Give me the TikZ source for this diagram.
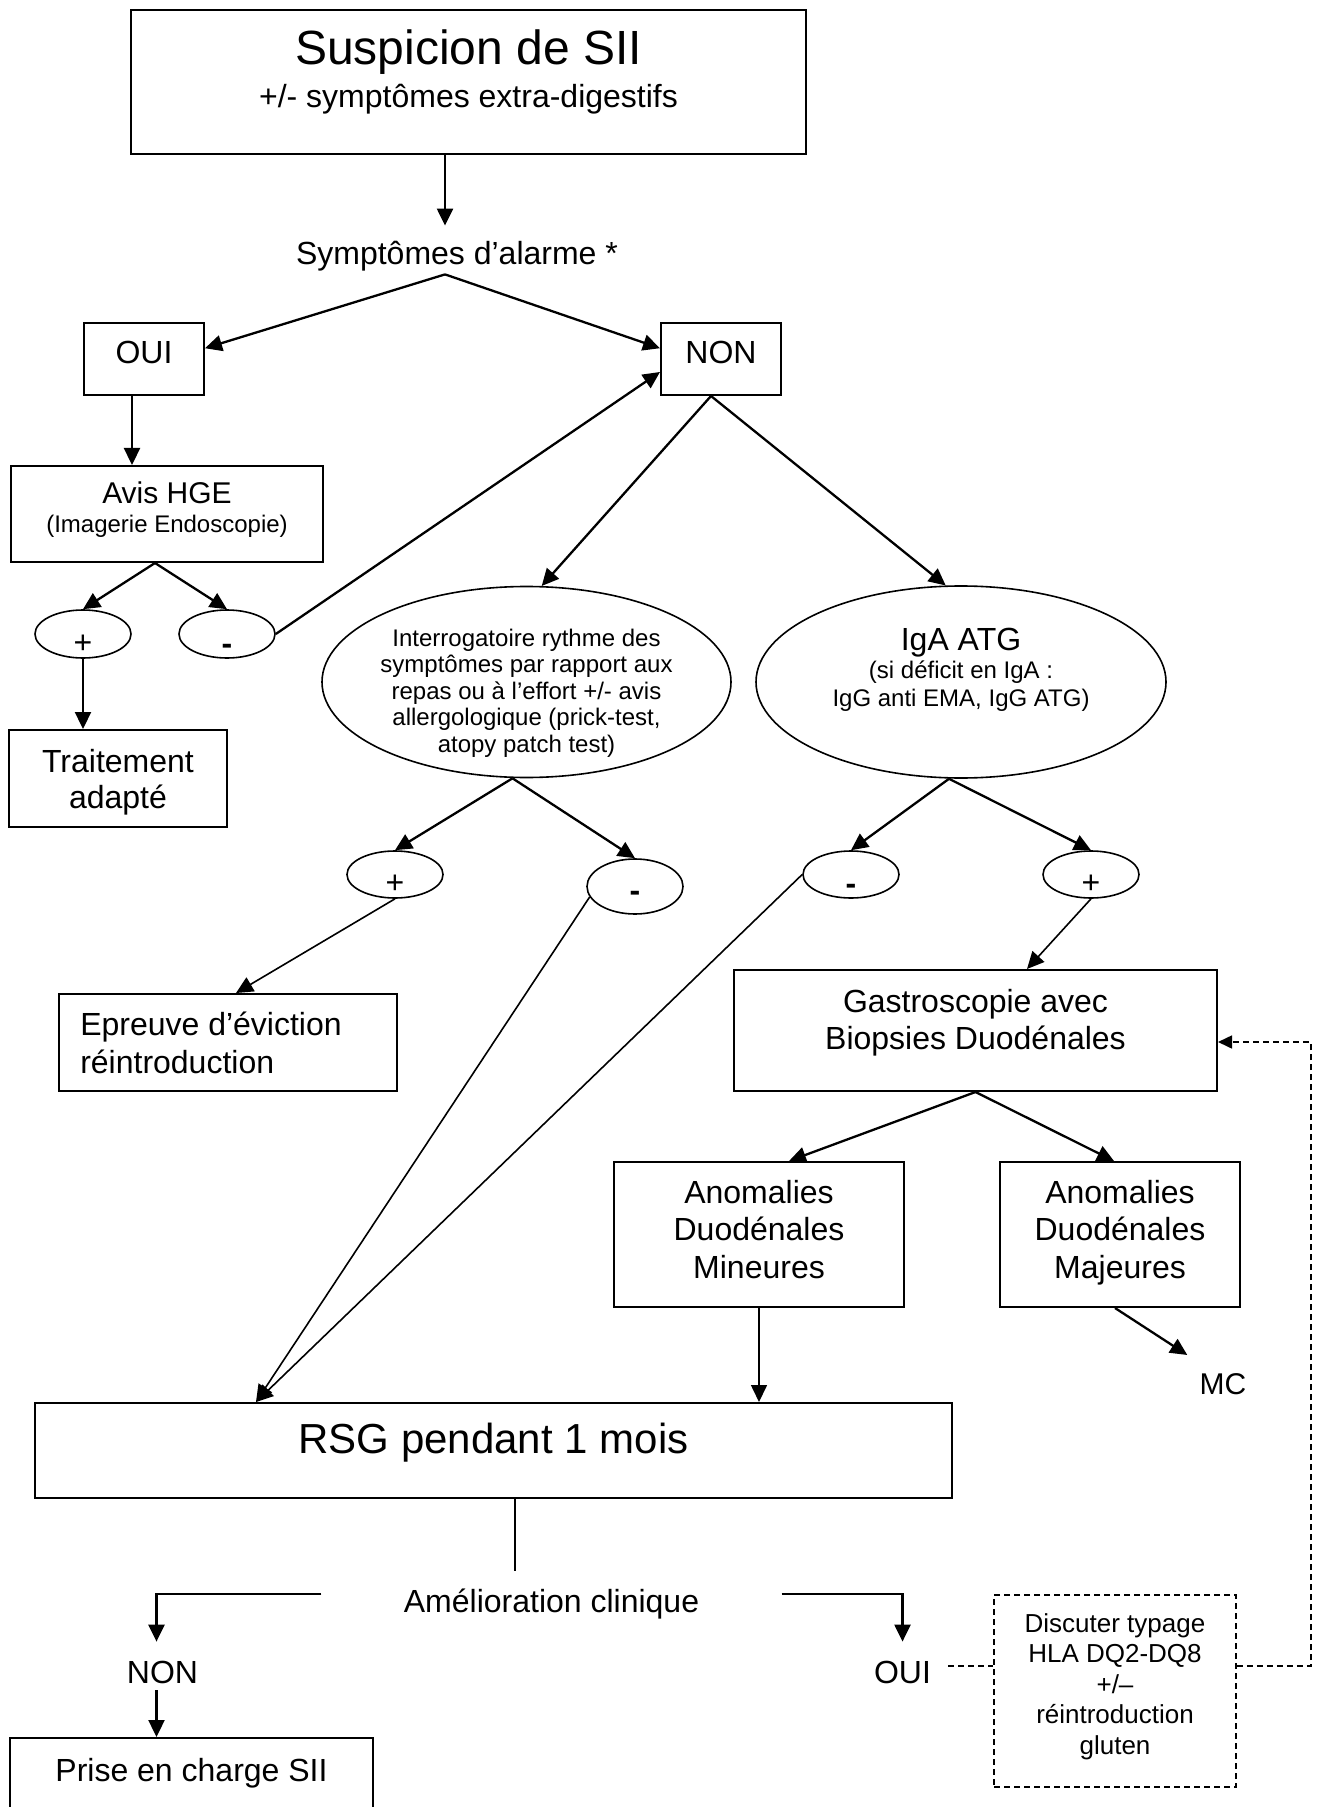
\documentclass[tikz,border=0pt]{standalone}
\usepackage{fontspec}
\setmainfont{Liberation Sans}
\usetikzlibrary{arrows.meta,shapes.geometric,calc}
\newcommand\txtc[3]{\raisebox{#1}[0pt][0pt]{\makebox[0pt]{\hspace*{#2}\hspace*{#2}\begin{tabular}[t]{@{}c@{}}#3\end{tabular}}}}
\newcommand\txtl[3]{\raisebox{#1}[0pt][0pt]{\makebox[0pt]{\hspace*{#2}\hspace*{#2}\begin{tabular}[t]{@{}l@{}}#3\end{tabular}}}}
\tikzset{
  box/.style={draw, line width=1pt, rectangle, inner sep=0pt},
  ell/.style={draw, line width=0.8pt, ellipse, inner sep=0pt},
  arr/.style={-{Triangle[length=8.5pt,width=8pt]}, line width=1.15pt},
  tarr/.style={-{Triangle[length=8.5pt,width=8pt]}, line width=0.8pt},
  fine/.style={line width=0.7pt},
  dsh/.style={line width=0.8pt, dash pattern=on 3pt off 2pt},
  f16/.style={font=\fontsize{16}{19}\selectfont},
}
\begin{document}
\begin{tikzpicture}[x=0.5pt,y=-0.5pt]
\useasboundingbox (0,0) rectangle (1317,1807);
\clip (0,0) rectangle (1317,1807);

% nodes
\node[box, minimum width=337.5pt, minimum height=72pt, font=\fontsize{16}{21.5}\selectfont] (top) at (468.5,82)
  {\txtc{8.5pt}{0pt}{{\fontsize{24}{24}\selectfont Suspicion de SII}\\+/- symptômes extra-digestifs}};
\node[inner sep=0pt, text height=19.5pt, text depth=4.5pt, f16] (alarm) at (457,250) {Symptômes d’alarme *};
\node[box, minimum width=60pt, minimum height=36pt, f16] (oui) at (144,359) {\txtc{-2.5pt}{0pt}{OUI}};
\node[box, minimum width=60pt, minimum height=36pt, f16] (non) at (721,359) {\txtc{-2.5pt}{0pt}{NON}};
\node[box, minimum width=156pt, minimum height=48pt, font=\fontsize{12}{14.5}\selectfont] (avis) at (167,514)
  {\txtc{5pt}{0pt}{{\fontsize{15}{15}\selectfont Avis HGE}\\(Imagerie Endoscopie)}};
\node[ell, minimum width=48pt, minimum height=24pt, f16] (pos1) at (83,634) {\txtc{-9.65pt}{0pt}{+}};
\node[ell, minimum width=48pt, minimum height=24pt, f16] (neg1) at (227,634) {\txtc{-10.3pt}{0pt}{\textbf{-}}};
\node[box, minimum width=109pt, minimum height=48.5pt, font=\fontsize{16}{18}\selectfont] (trait) at (118,778.5)
  {\txtc{3.25pt}{0pt}{Traitement\\adapté}};
\node[ell, minimum width=204.5pt, minimum height=95.5pt, font=\fontsize{12}{13.25}\selectfont] (interrog) at (526.5,682)
  {\txtc{18pt}{0pt}{Interrogatoire rythme des\\symptômes par rapport aux\\repas ou à l’effort +/- avis\\allergologique (prick-test,\\atopy patch test)}};
\node[ell, minimum width=205pt, minimum height=96pt, font=\fontsize{12}{14}\selectfont] (iga) at (961,682)
  {\txtc{16pt}{0pt}{{\fontsize{16}{16}\selectfont IgA ATG}\\(si déficit en IgA :\\IgG anti EMA, IgG ATG)}};
\node[ell, minimum width=48pt, minimum height=23.5pt, f16] (pos2) at (395,874.5) {\txtc{-9.4pt}{0pt}{+}};
\node[ell, minimum width=48pt, minimum height=27.5pt, f16] (neg2) at (635,886.5) {\txtc{-7.55pt}{0pt}{\textbf{-}}};
\node[ell, minimum width=48pt, minimum height=23.5pt, f16] (neg3) at (851,874.5) {\txtc{-10pt}{0pt}{\textbf{-}}};
\node[ell, minimum width=48pt, minimum height=23.5pt, f16] (pos3) at (1091,874.5) {\txtc{-9.4pt}{0pt}{+}};
\node[box, minimum width=169pt, minimum height=48.5pt, f16] (epr) at (228,1042.5)
  {\txtl{3.75pt}{-8.5pt}{Epreuve d’éviction\\réintroduction}};
\node[box, minimum width=241.5pt, minimum height=60.5pt, font=\fontsize{16}{18.5}\selectfont] (gastro) at (975.5,1030.5)
  {\txtc{9.25pt}{0pt}{Gastroscopie avec\\Biopsies Duodénales}};
\node[box, minimum width=145pt, minimum height=72.5pt, font=\fontsize{16}{18.75}\selectfont] (min) at (759,1234.5)
  {\txtc{15.75pt}{0pt}{Anomalies\\Duodénales\\Mineures}};
\node[box, minimum width=120pt, minimum height=72.5pt, font=\fontsize{16}{18.75}\selectfont] (maj) at (1120,1234.5)
  {\txtc{15.75pt}{0pt}{Anomalies\\Duodénales\\Majeures}};
\node[inner sep=0pt, font=\fontsize{15}{18}\selectfont] (mc) at (1223,1384) {MC};
\node[box, minimum width=458.5pt, minimum height=47.5pt, font=\fontsize{21}{25}\selectfont] (rsg) at (493.5,1450.5)
  {\txtc{-1.25pt}{0pt}{RSG pendant 1 mois}};
\node[inner xsep=41pt, inner ysep=0pt, text height=20.5pt, text depth=2.5pt, f16] (amel) at (551.5,1594) {Amélioration clinique};
\node[inner sep=0pt, text height=20.5pt, text depth=3.5pt, f16] (non2) at (162.5,1666) {NON};
\node[inner xsep=8.5pt, inner ysep=0pt, text height=20.5pt, text depth=3.5pt, f16] (oui2) at (902.5,1666) {OUI};
\node[box, dsh, minimum width=121pt, minimum height=96pt, font=\fontsize{13}{15.25}\selectfont] (disc) at (1115,1691)
  {\txtc{29.5pt}{0pt}{Discuter typage\\HLA DQ2-DQ8\\+/–\\réintroduction\\gluten}};
\node[box, minimum width=181.5pt, minimum height=51pt, f16] (prise) at (191.5,1789)
  {\txtc{4pt}{0pt}{Prise en charge SII}};

% connectors
\draw[arr] ([xshift=-6pt]alarm.north |- top.south) -- ([xshift=-6pt]alarm.north);
\draw[arr] ([xshift=-6pt]alarm.south) -- (oui.10);
\draw[arr] ([xshift=-6pt]alarm.south) -- (non.170);
\draw[arr] ([xshift=-6pt]oui.south) -- ([xshift=-6pt]oui.south |- avis.north);
\draw[arr] ([xshift=-6pt]avis.south) -- (pos1.north);
\draw[arr] ([xshift=-6pt]avis.south) -- (neg1.north);
\draw[arr] (pos1.south) -- (pos1.south |- trait.north);
\draw[arr] (neg1.east) -- (non.192);
\draw[arr] ([xshift=-5pt]non.south) -- (interrog.81);
\draw[arr] ([xshift=-5pt]non.south) -- (iga.99);
\draw[arr] ([xshift=-7pt]interrog.south) -- (pos2.north);
\draw[arr] ([xshift=-7pt]interrog.south) -- (neg2.north);
\draw[tarr] (pos2.south) -- ([xshift=4pt]epr.north);
\draw[tarr] (neg2.193) -- ([xshift=111pt]rsg.north west);
\draw[tarr] (neg3.west) -- ([xshift=111pt]rsg.north west);
\draw[arr] ([xshift=-6pt]iga.south) -- (neg3.north);
\draw[arr] ([xshift=-6pt]iga.south) -- (pos3.north);
\draw[tarr] (pos3.south) -- ([xshift=25.75pt]gastro.north);
\draw[arr] (gastro.south) -- ([xshift=15pt]min.north);
\draw[arr] (gastro.south) -- ([xshift=-3pt]maj.north);
\draw[tarr] (min.south) -- (min.south |- rsg.north);
\draw[arr] ([xshift=-2.5pt]maj.south) -- ([shift={(-6pt,9pt)}]mc.north west);
\draw[fine] ([xshift=10.75pt]rsg.south) -- ([xshift=10.75pt]rsg.south |- amel.north);
\draw[arr] (amel.west) -| ([xshift=-3pt]non2.north);
\draw[arr] ([xshift=-3pt]non2.south) -- ([xshift=-3pt]non2.south |- prise.north);
\draw[arr] (amel.east) -| (oui2.north);
\draw[dsh] (oui2.east) -- (oui2.east -| disc.west);
\draw[dsh, -{Triangle[length=7pt,width=6.5pt]}] (disc.east |- oui2.east) -- ++(37pt,0pt) |- ([yshift=-5.75pt]gastro.east);
\end{tikzpicture}
\end{document}
